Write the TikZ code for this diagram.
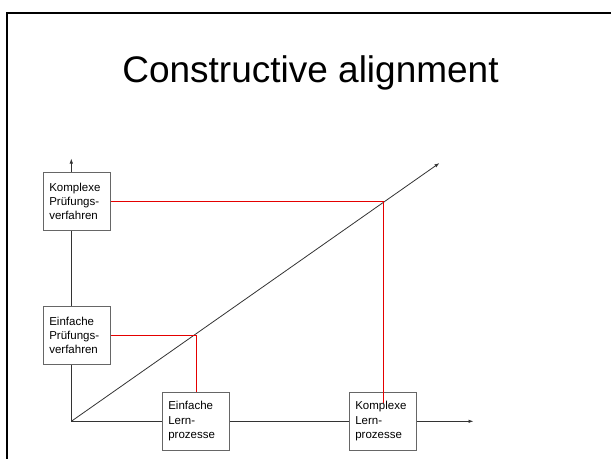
\documentclass[tikz,border=0pt]{standalone}
\usepackage{fontspec}
\setmainfont{Liberation Sans}
\usetikzlibrary{arrows.meta}

\begin{document}
\begin{tikzpicture}[x=1pt, y=-1pt, line width=0.8pt, >={Latex[length=5pt,width=3.5pt]}]
        \tikzstyle{every node}=[inner sep=0pt]
        \tikzstyle{stufe}=[draw=black!60, fill=white, align=left, text width=56pt, inner xsep=5.5pt, minimum height=57.3pt, font=\fontsize{11.5}{14.3}\selectfont]
        \tikzstyle{axis}=[draw=black!80]
        \tikzstyle{zuordnung}=[draw=red!90!black]
        \useasboundingbox (0,0) rectangle (611,459);
        \draw[line width=2pt] (611,12.5) -- (6.5,12.5) -- (6.5,459);
        \node (titel) [anchor=base, font=\fontsize{37}{44}\selectfont] at (310.5,82.5) {Constructive alignment};
        \coordinate (ursprung) at (71.3,421.3);
        \coordinate (yende) at (71.3,158.5);
        \coordinate (xende) at (473.5,421.3);
        \coordinate (diagende) at (439.5,163);
        \coordinate (kende) at (383.3,403);
        \draw[axis, ->] (ursprung) -- (yende);
        \draw[axis, ->] (ursprung) -- (xende);
        \draw[axis, ->] (ursprung) -- (diagende);
        \node (kpruef) [stufe] at (77.3,201.3) {Komplexe Prüfungs\-verfahren};
        \node (epruef) [stufe] at (77.3,335.3) {Einfache Prüfungs\-verfahren};
        \node (elern) [stufe] at (196.3,421.3) {Einfache Lern-\\prozesse};
        \node (klern) [stufe] at (383.3,421.3) {Komplexe Lern-\\prozesse};
        \draw[zuordnung] (epruef.east) -| (elern.north);
        \draw[zuordnung] (kpruef.east) -| (kende);
    \end{tikzpicture}
\end{document}
